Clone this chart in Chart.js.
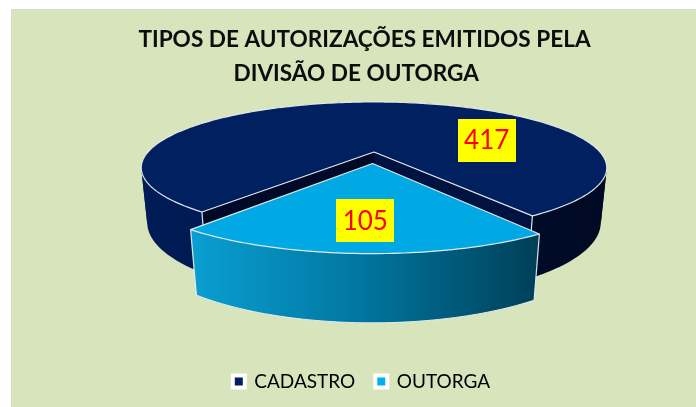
<!DOCTYPE html>
<html><head><meta charset="utf-8">
<script src="https://cdn.jsdelivr.net/npm/chart.js@4/dist/chart.umd.min.js"></script>
<style>
html,body{margin:0;padding:0;background:#fff;overflow:hidden}
#wrap{position:absolute;left:11px;top:9px;width:685px;height:398px;background:#D8E4BC;box-shadow:inset 1px 1px 0 #d9d9d9}
canvas{display:block}
</style></head><body>
<div id="wrap"><canvas id="c" width="685" height="398"></canvas></div>
<script>
const titleLines = ['TIPOS DE AUTORIZAÇÕES EMITIDOS PELA', 'DIVISÃO DE OUTORGA   '];
const categories = ['CADASTRO', 'OUTORGA'];
const values = [417, 105];
const sliceColors = ['#002060', '#00B0F0'];
const topColors = ['#002060', '#00A9E3'];
const wallStops = [['#001c57', '#00184c', '#000c2c', '#000a24'], ['#0a9fd2', '#00759f', '#003f58']];
const innerWalls = ['#00123f', '#000a28'];
const labelAngles = [338, 92];
const labelRadii = [0.565, 0.695];

const view = {cx: 363, cy: 143, A: 226, B: 62, p: 0.239, H: 54, q: 0.025};
function project(X, Y, z) {
  const s = 1 / (1 - view.p * Y + view.q * z);
  return [view.cx + view.A * X * s, view.cy + (view.B * Y + view.H * z) * s];
}
function arcPts(a0, a1, ox, oy, z) {
  const n = Math.max(2, Math.ceil(Math.abs(a1 - a0) / 0.02)), pts = [];
  for (let i = 0; i <= n; i++) {
    const a = a0 + (a1 - a0) * i / n;
    pts.push(project(ox + Math.cos(a), oy + Math.sin(a), z));
  }
  return pts;
}
function trace(ctx, pts) {
  ctx.beginPath();
  pts.forEach((p, i) => i ? ctx.lineTo(p[0], p[1]) : ctx.moveTo(p[0], p[1]));
}
function quadSign(a, b, c, d) {
  const pts = [a, b, c, d];
  let s = 0;
  pts.forEach((p, i) => { const q = pts[(i + 1) % 4]; s += p[0] * q[1] - q[0] * p[1]; });
  return s >= 0 ? 1 : -1;
}
const edge = 'rgba(232,238,238,0.95)';

const pie3d = {
  id: 'pie3d',
  afterLayout(chart) {
    const l = chart.legend;
    l.left -= 3; l.right -= 3; l.top -= 6; l.bottom -= 6;
  },
  beforeDatasetsDraw(chart) {
    const ctx = chart.ctx, arcs = chart.getDatasetMeta(0).data;
    ctx.save();
    ctx.lineJoin = 'round';
    arcs.forEach((el, i) => {
      const R = el.outerRadius, mid = (el.startAngle + el.endAngle) / 2;
      const off = (el.options.offset || 0) / R;
      const ox = Math.cos(mid) * off, oy = Math.sin(mid) * off;
      const a0 = el.startAngle, a1 = el.endAngle;
      const top = arcPts(a0, a1, ox, oy, 0), bot = arcPts(a0, a1, ox, oy, 1);
      const apexT = project(ox, oy, 0), apexB = project(ox, oy, 1);

      // outer wall: one polygon per run of equal winding, so front and back never cancel
      const xs = top.concat(bot).map(p => p[0]);
      const minX = Math.min(...xs), maxX = Math.max(...xs);
      const g = ctx.createLinearGradient(minX, 0, maxX, 0);
      wallStops[i].forEach((c, k) => g.addColorStop(k / (wallStops[i].length - 1), c));
      ctx.fillStyle = g;
      let start = 0;
      for (let k = 0; k < top.length - 1; k++) {
        const sign = quadSign(top[k], top[k + 1], bot[k + 1], bot[k]);
        const next = k + 2 < top.length ? quadSign(top[k + 1], top[k + 2], bot[k + 2], bot[k + 1]) : 0;
        if (next !== sign) {
          trace(ctx, top.slice(start, k + 2).concat(bot.slice(start, k + 2).reverse()));
          ctx.closePath(); ctx.fill();
          start = k + 1;
        }
      }

      // interior cut walls (only the large slice shows them)
      if (i === 0) {
        [[top[0], bot[0], innerWalls[1]], [top[top.length - 1], bot[bot.length - 1], innerWalls[0]]].forEach(w => {
          trace(ctx, [apexT, w[0], w[1], apexB]);
          ctx.closePath(); ctx.fillStyle = w[2]; ctx.fill();
        });
      } else {
        trace(ctx, bot); ctx.strokeStyle = edge; ctx.lineWidth = 1; ctx.stroke();
      }

      // top face
      trace(ctx, [apexT].concat(top));
      ctx.closePath(); ctx.fillStyle = topColors[i]; ctx.fill();
      ctx.strokeStyle = edge; ctx.lineWidth = 1.2; ctx.stroke();

      // vertical edges
      [[top[0], bot[0]], [top[top.length - 1], bot[bot.length - 1]]].forEach(e => {
        trace(ctx, e); ctx.lineWidth = 1.2; ctx.stroke();
      });
    });
    // value boxes
    ctx.font = '26px Lato';
    ctx.textAlign = 'center'; ctx.textBaseline = 'middle';
    arcs.forEach((el, i) => {
      const mid = (el.startAngle + el.endAngle) / 2, off = (el.options.offset || 0) / el.outerRadius;
      const a = labelAngles[i] * Math.PI / 180;
      const p = project(Math.cos(mid) * off + Math.cos(a) * labelRadii[i], Math.sin(mid) * off + Math.sin(a) * labelRadii[i], 0);
      ctx.fillStyle = '#FFFF00';
      ctx.fillRect(Math.round(p[0]) - 29, Math.round(p[1]) - 21, 58, 43);
      ctx.fillStyle = '#FF0000';
      ctx.fillText(String(values[i]), p[0], p[1] + 1);
    });
    ctx.restore();
    return false;
  }
};

new Chart(document.getElementById('c'), {
  type: 'pie',
  data: {
    labels: categories,
    datasets: [{data: values, backgroundColor: sliceColors, borderWidth: 0, offset: [0, 21]}]
  },
  options: {
    responsive: false,
    animation: false,
    rotation: 218.2,
    layout: {padding: {left: 22, top: 0, bottom: 0}},
    plugins: {
      tooltip: {enabled: false},
      title: {display: true, text: titleLines, color: '#0d0d0d',
        font: {family: 'Lato', size: 22.6, weight: 'bold', lineHeight: 1.5}, padding: {top: 14, bottom: 10}},
      legend: {position: 'bottom',
        labels: {font: {family: 'Lato', size: 19}, color: '#111', boxWidth: 12, boxHeight: 12, padding: 20,
          generateLabels(chart) {
            return categories.map((t, i) => ({text: t, fillStyle: sliceColors[i], strokeStyle: '#fff', lineWidth: 4, index: i, hidden: false}));
          }}}
    }
  },
  plugins: [pie3d]
});
</script>
</body></html>
